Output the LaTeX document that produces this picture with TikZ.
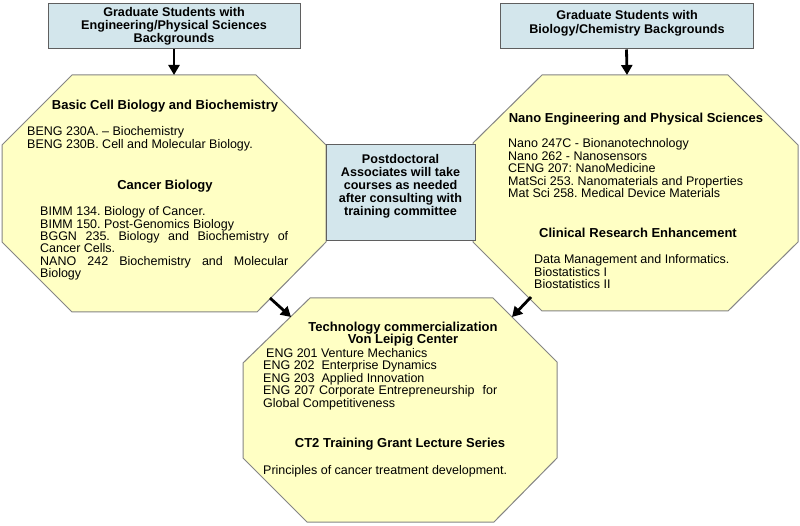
\documentclass[tikz,border=0pt]{standalone}
\usepackage{fontspec}
\setmainfont{Liberation Sans}
\usetikzlibrary{arrows.meta}
\frenchspacing
\definecolor{octfill}{HTML}{FFFFC4}
\definecolor{octline}{HTML}{858585}
\definecolor{boxfill}{HTML}{D3E6EC}
\definecolor{boxline}{HTML}{5F5F5F}
\tikzset{
  oct/.style={fill=octfill,draw=octline,line width=1pt,line join=miter},
  infobox/.style={fill=boxfill,draw=boxline,line width=1pt,inner sep=0pt},
  ttl/.style={anchor=base,inner sep=0pt,font=\fontsize{13}{13}\selectfont\bfseries},
  boxtxt/.style={anchor=base,inner sep=0pt,font=\fontsize{12.6}{13}\selectfont\bfseries},
  body/.style={anchor=base west,inner sep=0pt,font=\fontsize{12.5}{12.3}\selectfont},
  arr/.style={line width=2.8pt,-{Triangle[length=10pt,width=11pt]}},
}
\begin{document}
\frenchspacing
\begin{tikzpicture}[x=1pt,y=-1pt]
\useasboundingbox (0,0) rectangle (800,526);
\fill[white] (0,0) rectangle (800,526);

% octagons
\draw[oct] (72,75) -- (256,75) -- (326,145) -- (326,242) -- (257,312) -- (72,312) -- (2,242) -- (2,145) -- cycle;
\draw[oct] (542,75) -- (728,75) -- (798,145) -- (798,242) -- (728,311) -- (542,311) -- (473,242) -- (473,143) -- cycle;
\draw[oct] (310,298) -- (493,298) -- (557,362) -- (557,458) -- (494,522) -- (307,522) -- (243,458) -- (243,363) -- cycle;

\coordinate (octLtop) at (174,75);
\coordinate (octRtop) at (627,75);
\coordinate (octLout) at (270,298);
\coordinate (octRout) at (531,297);
\coordinate (octBinL) at (291,317);
\coordinate (octBinR) at (512,317);

% boxes
\node[infobox,minimum width=252pt,minimum height=45pt] (gL) at (174,26.5) {};
\node[infobox,minimum width=253pt,minimum height=45pt] (gR) at (626.5,26.5) {};
\node[infobox,minimum width=149pt,minimum height=96pt] (pd) at (400.5,193) {};

\node[boxtxt] (gLt) at (174,17) {\parbox[t]{250pt}{\centering Graduate Students with\\Engineering/Physical Sciences\\Backgrounds}};
\node[boxtxt] (gRt) at (627,20) {\parbox[t]{250pt}{\centering\baselineskip=14pt Graduate Students with\\Biology/Chemistry Backgrounds}};
\node[boxtxt,font=\fontsize{12.6}{12.8}\selectfont\bfseries] (pdt) at (400.5,164) {\parbox[t]{148pt}{\centering Postdoctoral\\Associates will take\\courses as needed\\after consulting with\\training committee}};

% left octagon text
\node[ttl] (t1) at (165,110) {Basic Cell Biology and Biochemistry};
\node[body] (b1) at (27,136) {\parbox[t]{290pt}{BENG 230A. -- Biochemistry\\BENG 230B. Cell and Molecular Biology.}};
\node[ttl] (t2) at (165,190) {Cancer Biology};
\node[body] (b2) at (40,216) {\parbox[t]{248pt}{BIMM 134. Biology of Cancer.\\BIMM 150. Post-Genomics Biology\\BGGN 235. Biology and Biochemistry of\linebreak Cancer Cells.\\NANO 242 Biochemistry and Molecular\linebreak Biology}};

% right octagon text
\node[ttl] (t3) at (636,123) {Nano Engineering and Physical Sciences};
\node[body] (b3) at (508,148) {\parbox[t]{270pt}{\baselineskip=12.5pt Nano 247C - Bionanotechnology\\Nano 262 - Nanosensors\\CENG 207: NanoMedicine\\MatSci 253. Nanomaterials and Properties\\Mat Sci 258. Medical Device Materials}};
\node[ttl] (t4) at (638,238) {Clinical\hspace{4pt}Research Enhancement};
\node[body] (b4) at (534,264) {\parbox[t]{250pt}{Data Management and Informatics.\\Biostatistics I\\Biostatistics II}};

% bottom octagon text
\node[ttl] (t5) at (403,331) {\parbox[t]{290pt}{\centering Technology commercialization\\Von Leipig Center}};
\node[body] (b5) at (263,357) {\parbox[t]{234pt}{\baselineskip=12.5pt \hspace*{3pt}ENG 201 Venture Mechanics\\ENG 202\hspace{7pt}Enterprise Dynamics\\ENG 203\hspace{7pt}Applied Innovation\\ENG 207 Corporate Entrepreneurship\hspace{4pt} for\linebreak Global Competitiveness}};
\node[ttl] (t6) at (400,447) {CT2 Training Grant Lecture Series};
\node[body] (b6) at (263,474) {Principles of cancer treatment development.};

% arrows
\draw[arr] (gL.south) -- (octLtop);
\draw[arr] (gR.south) -- (octRtop);
\draw[arr] (octLout) -- (octBinL);
\draw[arr] (octRout) -- (octBinR);
\end{tikzpicture}
\end{document}
